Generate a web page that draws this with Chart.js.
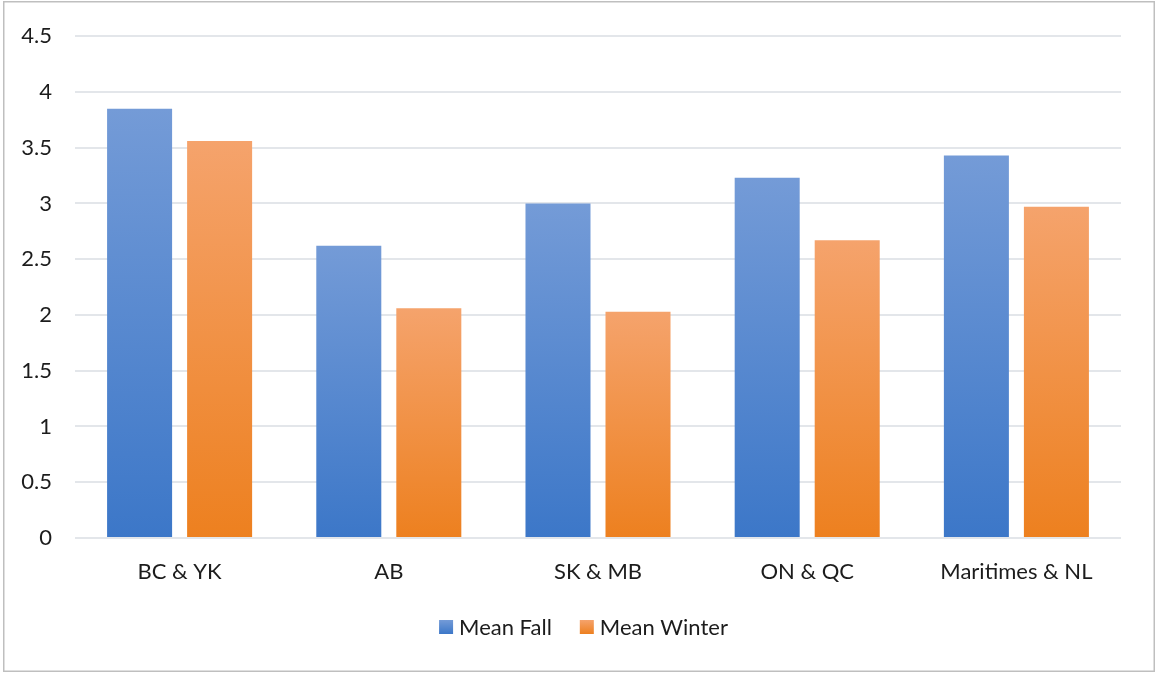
<!DOCTYPE html>
<html>
<head>
<meta charset="utf-8">
<script src="https://cdn.jsdelivr.net/npm/chart.js@4"></script>
<style>
  html, body { margin: 0; padding: 0; background: #fff; }
  #wrap { width: 1157px; height: 673px; position: relative; }
</style>
</head>
<body>
<div id="wrap"><canvas id="c" width="1157" height="673"></canvas></div>
<script>
// Regions and seasonal means
const regions = ['BC & YK', 'AB', 'SK & MB', 'ON & QC', 'Maritimes & NL'];
const meanFall = [3.85, 2.62, 3.00, 3.23, 3.43];
const meanWinter = [3.56, 2.06, 2.03, 2.67, 2.97];
const seriesNames = ['Mean Fall', 'Mean Winter'];
const yTicks = [0, 0.5, 1, 1.5, 2, 2.5, 3, 3.5, 4, 4.5];

const FONT = 'Lato, "Open Sans", sans-serif';
const FONT_SIZE = 22;
const TEXT = '#1c1c1c';

const palette = [
  { top: '#749BD7', bottom: '#3C77C8' },
  { top: '#F5A36C', bottom: '#ED801F' }
];

// light-at-top / dark-at-base fill for each bar
function barGradient(top, bottom) {
  return (ctx) => {
    const chart = ctx.chart;
    if (!chart.chartArea || ctx.type !== 'data') return bottom;
    const y = chart.scales.y;
    const yTop = y.getPixelForValue(ctx.raw);
    const yBase = y.getPixelForValue(0);
    const g = chart.ctx.createLinearGradient(0, yTop, 0, yBase);
    g.addColorStop(0, top);
    g.addColorStop(1, bottom);
    return g;
  };
}

// outer frame around the whole chart
const frame = {
  id: 'frame',
  afterDraw(chart) {
    const c = chart.ctx;
    c.save();
    c.strokeStyle = '#BFBFBF';
    c.lineWidth = 1.5;
    c.strokeRect(3.75, 1.75, 1150.5, 669.5);
    c.restore();
  }
};

// series key under the category labels
const seriesKey = {
  id: 'seriesKey',
  afterDraw(chart) {
    const c = chart.ctx;
    const box = 14, gapText = 6, gapItem = 28;
    const cy = 627;
    c.save();
    c.font = FONT_SIZE + 'px ' + FONT;
    c.textBaseline = 'middle';
    c.textAlign = 'left';
    const widths = chart.data.datasets.map(ds => c.measureText(ds.label).width);
    let total = 0;
    widths.forEach((w, i) => { total += box + gapText + w + (i ? gapItem : 0); });
    let x = chart.width / 2 + 5 - total / 2;
    chart.data.datasets.forEach((ds, i) => {
      const g = c.createLinearGradient(0, cy - box / 2, 0, cy + box / 2);
      g.addColorStop(0, palette[i].top);
      g.addColorStop(1, palette[i].bottom);
      c.fillStyle = g;
      c.fillRect(x, cy - box / 2, box, box);
      x += box + gapText;
      c.fillStyle = TEXT;
      c.fillText(ds.label, x, cy + 1);
      x += widths[i] + gapItem;
    });
    c.restore();
  }
};

new Chart(document.getElementById('c'), {
  type: 'bar',
  data: {
    labels: regions,
    datasets: [
      {
        label: seriesNames[0],
        data: meanFall,
        backgroundColor: barGradient(palette[0].top, palette[0].bottom),
        categoryPercentage: 0.765,
        barPercentage: 0.8125
      },
      {
        label: seriesNames[1],
        data: meanWinter,
        backgroundColor: barGradient(palette[1].top, palette[1].bottom),
        categoryPercentage: 0.765,
        barPercentage: 0.8125
      }
    ]
  },
  options: {
    responsive: false,
    animation: false,
    devicePixelRatio: 1,
    layout: { padding: { top: 36, right: 36, left: 0, bottom: 85 } },
    scales: {
      x: {
        afterFit(scale) { scale.height = 50; },
        grid: { display: false, drawTicks: false },
        border: { display: false },
        ticks: { color: TEXT, font: { family: FONT, size: FONT_SIZE }, padding: 21 }
      },
      y: {
        min: 0,
        max: 4.5,
        afterBuildTicks(scale) { scale.ticks = yTicks.map(v => ({ value: v })); },
        afterFit(scale) { scale.width = 75; },
        grid: { color: '#E3E6EA', lineWidth: 2, drawTicks: false },
        border: { display: false },
        ticks: {
          color: TEXT,
          font: { family: FONT, size: FONT_SIZE },
          padding: 23,
          callback: (v) => String(v)
        }
      }
    },
    plugins: {
      legend: { display: false },
      tooltip: { enabled: false }
    }
  },
  plugins: [frame, seriesKey]
});
</script>
</body>
</html>
